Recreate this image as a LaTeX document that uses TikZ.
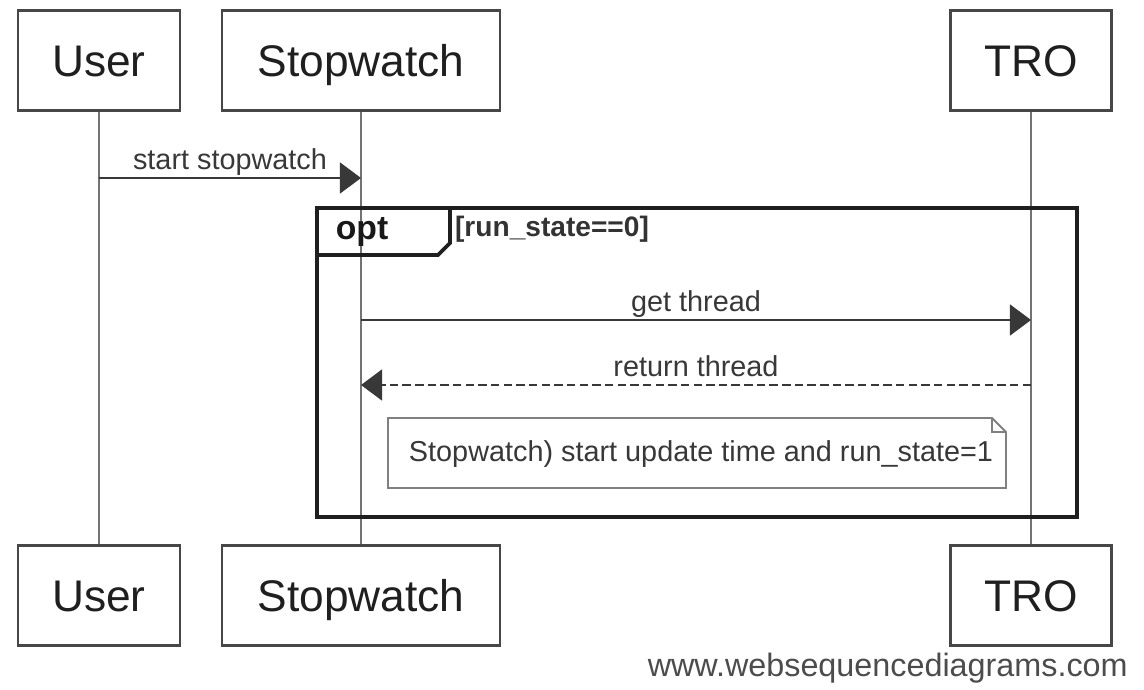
\documentclass[tikz,border=0pt]{standalone}
\usepackage{fontspec}
\setmainfont{Liberation Sans}
\usetikzlibrary{arrows.meta,positioning,calc}

\begin{document}
\begin{tikzpicture}[x=0.025cm, y=-0.025cm,
    actor/.style={draw=black!72, line width=1.7pt, minimum height=2.5cm, inner sep=0pt, text height=22.5pt, text depth=0pt, font=\fontsize{31.5}{36}\selectfont, text=black!88},
    life/.style={draw=black!55, line width=1.4pt},
    msg/.style={draw=black!78, line width=1.5pt, -{Triangle[length=15pt, width=22pt]}},
    lbl/.style={font=\fontsize{20.5}{24}\selectfont, text=black!78, inner sep=2pt},
    frame/.style={draw=black!88, line width=2.6pt}]
      \useasboundingbox (0,0) rectangle (1144,690);

      % participants
      \node[actor, minimum width=4.05cm] (user) at (99,60.5) {User};
      \node[actor, minimum width=6.95cm] (stop) at (361,60.5) {Stopwatch};
      \node[actor, minimum width=4.025cm] (tro) at (1031,60.5) {TRO};
      \node[actor, minimum width=4.05cm] (user_b) at (99,595.5) {User};
      \node[actor, minimum width=6.95cm] (stop_b) at (361,595.5) {Stopwatch};
      \node[actor, minimum width=4.025cm] (tro_b) at (1031,595.5) {TRO};

      \draw[life] (user.south) -- (user_b.north);
      \draw[life] (stop.south) -- (stop_b.north);
      \draw[life] (tro.south) -- (tro_b.north);

      % message points on the lifelines
      \coordinate (u_start) at (99,178);
      \coordinate (s_start) at (361,178);
      \coordinate (s_get) at (361,320);
      \coordinate (t_get) at (1031,320);
      \coordinate (t_ret) at (1031,385);
      \coordinate (s_ret) at (361,385);

      \draw[msg] (u_start) -- node[lbl, above, text depth=0pt, inner sep=5pt] {start stopwatch} (s_start);

      % opt fragment
      \draw[frame] (317,208) rectangle (1077,517);
      \draw[frame] (317,255) -- (438,255) -- (450,243) -- (450,208);
      \node[font=\bfseries\fontsize{24}{28}\selectfont, text=black!90] (opt) at (362,232) {opt};
      \node[font=\bfseries\fontsize{20}{24}\selectfont, text=black!80, anchor=west, inner sep=2pt] (guard) at (452,229) {[run\_state==0]};

      \draw[msg] (s_get) -- node[lbl, above, text depth=0pt, inner sep=5pt] {get thread} (t_get);
      \draw[msg, dashed, dash pattern=on 6pt off 3pt] (t_ret) -- node[lbl, above, text depth=0pt, inner sep=5pt] {return thread} (s_ret);

      % note
      \draw[draw=black!50, line width=1.4pt, fill=white] (388,418) -- (992,418) -- (1006,432) -- (1006,488) -- (388,488) -- cycle;
      \draw[draw=black!50, line width=1.4pt] (992,418) -- (992,432) -- (1006,432);
      \node[lbl] (note) at (701,454) {Stopwatch) start update time and run\_state=1};

      \node[font=\fontsize{23}{27}\selectfont, text=black!70, anchor=east, inner sep=0pt] (mark) at (1128,668) {www.websequencediagrams.com};
    \end{tikzpicture}
\end{document}
